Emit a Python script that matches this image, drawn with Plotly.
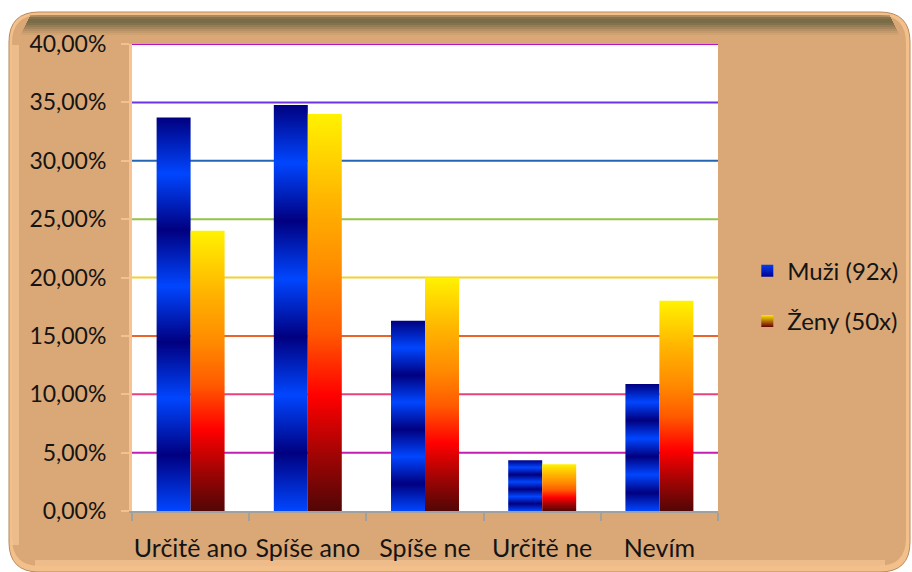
import plotly.graph_objects as go

# ---------------- data ----------------
categories = ["Určitě ano", "Spíše ano", "Spíše ne", "Určitě ne", "Nevím"]
muzi = [0.3370, 0.3478, 0.1630, 0.0435, 0.1087]   # Muži (92x)
zeny = [0.24, 0.34, 0.20, 0.04, 0.18]              # Ženy (50x)
series_names = ["Muži (92x)", "Ženy (50x)"]
y_ticks = [0, 0.05, 0.10, 0.15, 0.20, 0.25, 0.30, 0.35, 0.40]

# ---------------- styles ----------------
W, H = 912, 572
ML, MR, MT, MB = 132, 194, 44, 61
PW, PH = W - ML - MR, H - MT - MB
FONT = "Lato"
TXT = "#141414"
BAR_W = 0.29

grid_colors = [None, "#C21FB5", "#E8437C", "#E8642A", "#F2D22E",
               "#92C44A", "#2466B4", "#6A35E6", "#B414C4"]

blue_scale = [[0.0, "#0046FF"], [1/7, "#000080"], [2/7, "#0046FF"], [3/7, "#000080"],
              [4/7, "#0046FF"], [5/7, "#000080"], [6/7, "#0046FF"], [1.0, "#000080"]]
warm_scale = [[0.0, "#520606"], [0.14, "#A00404"], [0.29, "#FF0000"], [0.45, "#FF5A00"],
              [0.6, "#FF8A00"], [0.78, "#FFB400"], [1.0, "#FFF200"]]


def px(x):
    return (x - ML) / PW


def py(y):
    return (H - MB - y) / PH


def rrect(x0, y0, x1, y1, r):
    pts = [
        ("M", (x0 + r, y0)), ("L", (x1 - r, y0)), ("Q", (x1, y0), (x1, y0 + r)),
        ("L", (x1, y1 - r)), ("Q", (x1, y1), (x1 - r, y1)), ("L", (x0 + r, y1)),
        ("Q", (x0, y1), (x0, y1 - r)), ("L", (x0, y0 + r)), ("Q", (x0, y0), (x0 + r, y0)),
    ]
    s = ""
    for p in pts:
        s += p[0] + " " + " ".join(f"{px(a):.5f},{py(b):.5f}" for a, b in p[1:]) + " "
    return s + "Z"


fig = go.Figure()

# bars as gradient-filled polygons in data coordinates
for i, (m, z) in enumerate(zip(muzi, zeny)):
    for val, x0, x1, scale, name in [
        (m, i - BAR_W, i, blue_scale, series_names[0]),
        (z, i, i + BAR_W, warm_scale, series_names[1]),
    ]:
        fig.add_trace(go.Scatter(
            x=[x0, x0, x1, x1, x0], y=[0, val, val, 0, 0],
            fill="toself", mode="lines", line=dict(width=0),
            fillgradient=dict(type="vertical", start=0, stop=val, colorscale=scale),
            showlegend=False, legendgroup=name, name=name,
            hoverinfo="skip",
        ))

# legend entries
fig.add_trace(go.Scatter(x=[None], y=[None], mode="markers", name=series_names[0],
                         legendgroup=series_names[0],
                         marker=dict(symbol="square", size=14, color="#0040F0",
                                     gradient=dict(type="vertical", color="#000090"),
                                     line=dict(width=0))))
fig.add_trace(go.Scatter(x=[None], y=[None], mode="markers", name=series_names[1],
                         legendgroup=series_names[1],
                         marker=dict(symbol="square", size=14, color="#FFE800",
                                     gradient=dict(type="vertical", color="#6A0000"),
                                     line=dict(width=0))))

shapes = []
# outer tan panel
shapes.append(dict(type="path", xref="paper", yref="paper", layer="below",
                   path=rrect(9, 12, 910, 572, 30), fillcolor="#F3C08C",
                   line=dict(color="#B88A5C", width=1)))
shapes.append(dict(type="path", xref="paper", yref="paper", layer="below",
                   path=rrect(12, 15, 906, 566, 28), fillcolor="#DAA776",
                   line=dict(width=0)))
# top shadow band (stacked translucent strips)
for k, op in enumerate([0.35, 0.6, 0.7, 0.7, 0.62, 0.5, 0.38, 0.26, 0.15, 0.07]):
    yy = 15 + 2 * k
    shapes.append(dict(type="rect", xref="paper", yref="paper", layer="below",
                       x0=px(30 - k), x1=px(890 + k), y0=py(yy), y1=py(yy + 2),
                       fillcolor=f"rgba(80,82,50,{op})", line=dict(width=0)))
# left highlight
shapes.append(dict(type="rect", xref="paper", yref="paper", layer="below",
                   x0=px(12), x1=px(19), y0=py(545), y1=py(45),
                   fillcolor="rgba(255,210,160,0.5)", line=dict(width=0)))
# bottom highlight
shapes.append(dict(type="rect", xref="paper", yref="paper", layer="below",
                   x0=px(35), x1=px(885), y0=py(566), y1=py(560),
                   fillcolor="rgba(255,205,155,0.55)", line=dict(width=0)))
# white plot area
shapes.append(dict(type="rect", xref="paper", yref="paper", layer="below",
                   x0=0, x1=1, y0=0, y1=1, fillcolor="white", line=dict(width=0)))
# colored gridlines
for v, c in zip(y_ticks, grid_colors):
    if c is None:
        continue
    shapes.append(dict(type="line", xref="paper", yref="y", layer="below",
                       x0=0, x1=1, y0=v, y1=v, line=dict(color=c, width=2)))

fig.update_layout(
    width=W, height=H,
    margin=dict(l=ML, r=MR, t=MT, b=MB, pad=0, autoexpand=False),
    paper_bgcolor="white", plot_bgcolor="rgba(0,0,0,0)",
    separators=", ",
    font=dict(family=FONT, color=TXT),
    shapes=shapes,
    showlegend=True,
    legend=dict(x=1.05, y=0.46, xanchor="left", yanchor="middle",
                font=dict(family=FONT, size=24, color=TXT),
                bgcolor="rgba(0,0,0,0)", tracegroupgap=16, traceorder="grouped",
                itemsizing="constant"),
    xaxis=dict(range=[-0.5, 4.5], tickvals=list(range(len(categories))),
               ticktext=categories, ticks="", showgrid=False, zeroline=False,
               showline=True, linecolor="#A0A0A0", linewidth=2,
               tickfont=dict(family=FONT, size=25, color=TXT),
               ticklabelstandoff=14, automargin=False,
               minor=dict(tick0=-0.5, dtick=1, ticks="outside", ticklen=8,
                          tickcolor="#A0A0A0", tickwidth=2, showgrid=False),
               fixedrange=True),
    yaxis=dict(range=[0, 0.40], tickvals=y_ticks, tickformat=".2%",
               ticks="outside", ticklen=8, tickcolor="#F5C08E", tickwidth=2,
               showgrid=False, zeroline=False, showline=True,
               linecolor="#F6C494", linewidth=3,
               tickfont=dict(family=FONT, size=23, color=TXT),
               ticklabelstandoff=10, automargin=False,
               fixedrange=True),
)

fig.write_html("out.html", config={"displayModeBar": False},
               post_script="document.body.style.margin='0';document.body.style.overflow='hidden';")
